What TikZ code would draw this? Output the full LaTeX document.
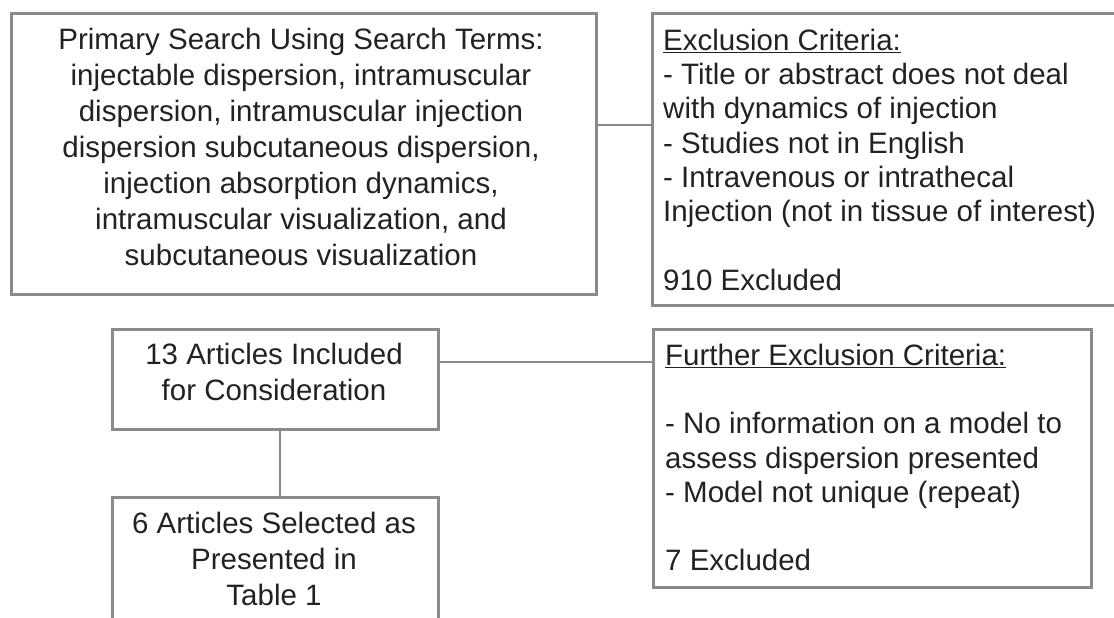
\documentclass[tikz,border=0pt]{standalone}
\usepackage{fontspec}
\setmainfont{Liberation Sans}
\definecolor{edge}{HTML}{8A8A8A}
\definecolor{ink}{HTML}{222222}
\begin{document}
\begin{tikzpicture}[x=1pt,y=-1pt,
  box/.style={draw=edge, line width=2.6pt, rectangle, inner sep=0pt, anchor=north west},
  txt/.style={inner sep=0pt, text=ink},
  wide/.style={font=\fontsize{29.5}{36}\selectfont},
  tight/.style={font=\fontsize{29.5}{34.3}\selectfont},
  link/.style={draw=edge, line width=2.6pt}]
\useasboundingbox (0,0) rectangle (1114,618);
% boxes
\node[box, minimum width=585pt, minimum height=281pt] (b1) at (10,12) {};
\node[box, minimum width=474pt, minimum height=292pt] (b2) at (651,12) {};
\node[box, minimum width=326pt, minimum height=100pt] (b3) at (111,328) {};
\node[box, minimum width=438pt, minimum height=258pt] (b4) at (652,328) {};
\node[box, minimum width=326pt, minimum height=150pt] (b5) at (111,496) {};
% texts
\node[txt, wide, anchor=north, align=center] (t1) at (301,22)
  {\rule{0pt}{27pt}Primary Search Using Search Terms:\\
   injectable dispersion, intramuscular\\
   dispersion, intramuscular injection\\
   dispersion subcutaneous dispersion,\\
   injection absorption dynamics,\\
   intramuscular visualization, and\\
   subcutaneous visualization};
\node[txt, tight, anchor=north west, align=left] (t2) at (663,23)
  {\rule{0pt}{27pt}\underline{Exclusion Criteria:}\\
   - Title or abstract does not deal\\
   with dynamics of injection\\
   - Studies not in English\\
   - Intravenous or intrathecal\\
   Injection (not in tissue of interest)\\[34.3pt]
   910 Excluded};
\node[txt, wide, anchor=north, align=center] (t3) at (274,337)
  {\rule{0pt}{27pt}13 Articles Included\\for Consideration};
\node[txt, tight, anchor=north west, align=left] (t4) at (665,338)
  {\rule{0pt}{27pt}\underline{Further Exclusion Criteria:}\\[34.2pt]
   - No information on a model to\\
   assess dispersion presented\\
   - Model not unique (repeat)\\[34.2pt]
   7 Excluded};
\node[txt, wide, anchor=north, align=center] (t5) at (274,506)
  {\rule{0pt}{27pt}6 Articles Selected as\\Presented in\\Table 1};
% connectors
\coordinate (j1) at (620,125);
\coordinate (j2) at (540,362);
\coordinate (j3) at (280,460);
\draw[link] (b1.east |- j1) -- (b2.west |- j1);
\draw[link] (b3.east |- j2) -- (b4.west |- j2);
\draw[link] (b3.south -| j3) -- (b5.north -| j3);
\end{tikzpicture}
\end{document}
